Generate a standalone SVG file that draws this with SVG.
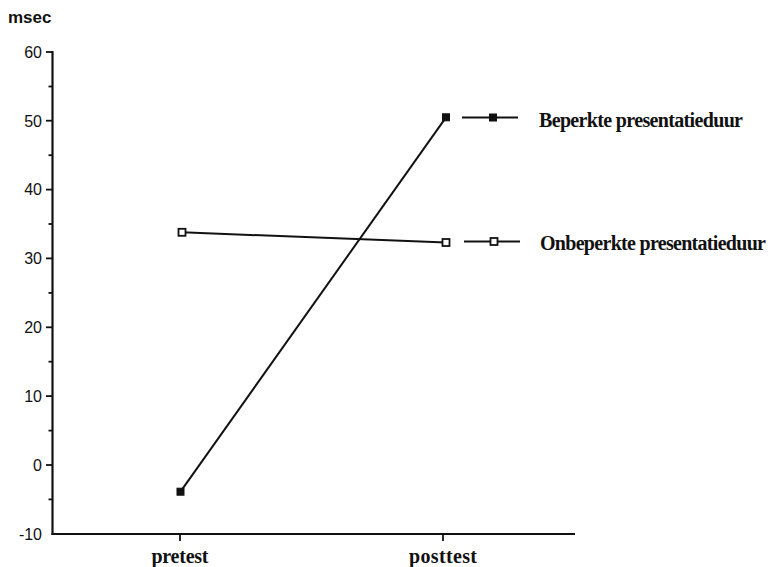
<svg xmlns="http://www.w3.org/2000/svg" width="770" height="567" viewBox="0 0 770 567">
<style>
.axis{stroke:#111;stroke-width:2.2;fill:none}
.tick{stroke:#111;stroke-width:1.8}
.num{font-family:"Liberation Sans",Arial,sans-serif;font-size:16px;fill:#111;text-anchor:end}
.ser{stroke:#111;stroke-width:2;fill:none}
.fill{fill:#111;stroke:#111;stroke-width:1}
.open{fill:#fff;stroke:#111;stroke-width:1.8}
.lbl{font-family:"Liberation Serif","Times New Roman",serif;font-weight:bold;font-size:20px;fill:#111}
</style>
<rect width="770" height="567" fill="#fff"/>
<g id="y-axis">
<line class="axis" x1="52.5" y1="51" x2="52.5" y2="535"/>
<g class="tick">
<line x1="46" y1="52" x2="52" y2="52"/><line x1="48.5" y1="86.5" x2="52" y2="86.5"/>
<line x1="46" y1="120.7" x2="52" y2="120.7"/><line x1="48.5" y1="155.2" x2="52" y2="155.2"/>
<line x1="46" y1="189.6" x2="52" y2="189.6"/><line x1="48.5" y1="224" x2="52" y2="224"/>
<line x1="46" y1="258.4" x2="52" y2="258.4"/><line x1="48.5" y1="292.9" x2="52" y2="292.9"/>
<line x1="46" y1="327.3" x2="52" y2="327.3"/><line x1="48.5" y1="361.7" x2="52" y2="361.7"/>
<line x1="46" y1="396.1" x2="52" y2="396.1"/><line x1="48.5" y1="430.6" x2="52" y2="430.6"/>
<line x1="46" y1="465" x2="52" y2="465"/><line x1="48.5" y1="499.4" x2="52" y2="499.4"/>
</g>
<text class="num" x="42" y="57.5">60</text>
<text class="num" x="42" y="126.5">50</text>
<text class="num" x="42" y="195">40</text>
<text class="num" x="42" y="264">30</text>
<text class="num" x="42" y="333">20</text>
<text class="num" x="42" y="401.5">10</text>
<text class="num" x="42" y="470.5">0</text>
<text class="num" x="42" y="539.5">-10</text>
<text x="8" y="23" style="font-family:'Liberation Sans',Arial,sans-serif;font-weight:bold;font-size:17px;fill:#111">msec</text>
</g>
<g id="x-axis">
<line class="axis" x1="51.5" y1="534" x2="575" y2="534"/>
<line class="tick" x1="180" y1="534" x2="180" y2="541"/>
<line class="tick" x1="443" y1="534" x2="443" y2="541"/>
<text class="lbl" x="180" y="562.5" text-anchor="middle" textLength="57">pretest</text>
<text class="lbl" x="443" y="562.5" text-anchor="middle" textLength="68">posttest</text>
</g>
<g id="connectors">
<line class="ser" x1="180.5" y1="491.7" x2="446" y2="117.3"/>
<line class="ser" x1="182" y1="232.3" x2="446" y2="242.5"/>
</g>
<g id="beperkte">
<rect class="fill" x="177" y="488.2" width="7" height="7"/>
<rect class="fill" x="442.5" y="113.8" width="7" height="7"/>
</g>
<g id="onbeperkte">
<rect class="open" x="178.5" y="228.8" width="7" height="7"/>
<rect class="open" x="442.5" y="239" width="7" height="7"/>
</g>
<g id="legend-beperkte">
<line class="ser" x1="462" y1="117.5" x2="518" y2="117.5"/>
<rect class="fill" x="489.5" y="114" width="7" height="7"/>
<text class="lbl" x="539" y="127" textLength="204">Beperkte presentatieduur</text>
</g>
<g id="legend-onbeperkte">
<line class="ser" x1="464" y1="241.5" x2="520" y2="241.5"/>
<rect class="open" x="490.5" y="238" width="7" height="7"/>
<text class="lbl" x="540" y="250" textLength="226">Onbeperkte presentatieduur</text>
</g>
</svg>
